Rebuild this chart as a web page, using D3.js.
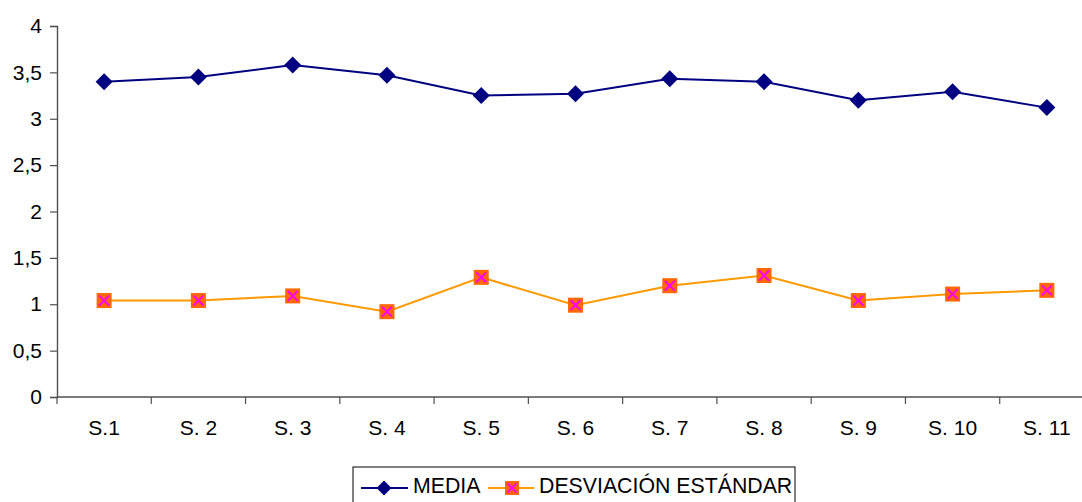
<!DOCTYPE html>
<html>
<head>
<meta charset="utf-8">
<script src="https://cdn.jsdelivr.net/npm/d3@7"></script>
<style>
  html, body { margin: 0; padding: 0; background: #fff; }
  svg { display: block; font-family: "Liberation Sans", Arial, sans-serif; }
</style>
</head>
<body>
<svg id="chart" width="1082" height="502"></svg>
<script>
// Sesiones evaluadas
const categories = ["S.1", "S. 2", "S. 3", "S. 4", "S. 5", "S. 6", "S. 7", "S. 8", "S. 9", "S. 10", "S. 11"];
// Media de cada sesión
const media = [3.40, 3.45, 3.58, 3.47, 3.25, 3.27, 3.43, 3.40, 3.20, 3.29, 3.12];
// Desviación estándar de cada sesión
const desviacion = [1.04, 1.04, 1.09, 0.92, 1.29, 0.99, 1.20, 1.31, 1.04, 1.11, 1.15];
// Marcas del eje vertical
const yTicks = [0, 0.5, 1, 1.5, 2, 2.5, 3, 3.5, 4];
const seriesNames = ["MEDIA", "DESVIACIÓN ESTÁNDAR"];

const svg = d3.select("#chart");
const plot = { left: 57, right: 1094, top: 26, bottom: 397 };
const axisColor = "#505050";
const fontSize = 21;

const x = d3.scaleBand().domain(categories).range([plot.left, plot.right]);
const y = d3.scaleLinear().domain([0, 4]).range([plot.bottom, plot.top]);
const fmt = d => String(d).replace(".", ",");

// Eje Y
const yAxis = svg.append("g")
  .attr("transform", `translate(${plot.left},0)`)
  .call(d3.axisLeft(y).tickValues(yTicks).tickFormat(fmt).tickSizeOuter(0).tickSize(7).tickPadding(8));
yAxis.select(".domain").attr("stroke", axisColor).attr("stroke-width", 1.4);
yAxis.selectAll(".tick line").attr("stroke", axisColor).attr("stroke-width", 1.2);
yAxis.selectAll(".tick text").attr("font-size", fontSize).attr("fill", "#000")
  .attr("font-family", "Liberation Sans, Arial, sans-serif");

// Eje X: marcas en los límites de cada categoría
const xAxis = svg.append("g")
  .attr("transform", `translate(0,${plot.bottom})`);
xAxis.append("line")
  .attr("x1", plot.left).attr("x2", plot.right)
  .attr("stroke", axisColor).attr("stroke-width", 1.4);
xAxis.selectAll("line.tick")
  .data(categories)
  .join("line")
  .attr("class", "tick")
  .attr("x1", d => x(d)).attr("x2", d => x(d))
  .attr("y1", 0).attr("y2", 7)
  .attr("stroke", axisColor).attr("stroke-width", 1.2);
xAxis.selectAll("text")
  .data(categories)
  .join("text")
  .attr("x", d => x(d) + x.bandwidth() / 2)
  .attr("y", 38)
  .attr("text-anchor", "middle")
  .attr("font-size", fontSize)
  .attr("fill", "#000")
  .text(d => d);

const cx = d => x(d) + x.bandwidth() / 2;
const line = d3.line().x((d, i) => cx(categories[i])).y(d => y(d));

// Serie MEDIA
const navy = "#000080";
svg.append("path").datum(media)
  .attr("d", line).attr("fill", "none").attr("stroke", navy).attr("stroke-width", 2);
const diamond = r => `M0,${-r}L${r},0L0,${r}L${-r},0Z`;
svg.selectAll("path.media-pt").data(media).join("path")
  .attr("class", "media-pt")
  .attr("transform", (d, i) => `translate(${cx(categories[i])},${y(d)})`)
  .attr("d", diamond(8.5)).attr("fill", navy);

// Serie DESVIACIÓN ESTÁNDAR
const orange = "#FF9900";
const sqFill = "#FF6600";
const magenta = "#FF00FF";
svg.append("path").datum(desviacion)
  .attr("d", line).attr("fill", "none").attr("stroke", orange).attr("stroke-width", 2);
function squareX(g, s) {
  g.append("rect").attr("x", -s / 2).attr("y", -s / 2).attr("width", s).attr("height", s).attr("fill", sqFill);
  const k = s * 0.33;
  g.append("path").attr("d", `M${-k},${-k}L${k},${k}M${-k},${k}L${k},${-k}`)
    .attr("stroke", magenta).attr("stroke-width", 2).attr("fill", "none");
}
svg.selectAll("g.desv-pt").data(desviacion).join("g")
  .attr("class", "desv-pt")
  .attr("transform", (d, i) => `translate(${cx(categories[i])},${y(d)})`)
  .each(function () { squareX(d3.select(this), 15); });

// Leyenda
const legend = svg.append("g");
legend.append("rect")
  .attr("x", 353).attr("y", 467).attr("width", 442).attr("height", 40)
  .attr("fill", "#fff").attr("stroke", "#000").attr("stroke-width", 1);
const ly = 488;
legend.append("line").attr("x1", 361).attr("x2", 408).attr("y1", ly).attr("y2", ly)
  .attr("stroke", navy).attr("stroke-width", 2);
legend.append("path").attr("transform", `translate(384,${ly})`).attr("d", diamond(7.5)).attr("fill", navy);
legend.append("text").attr("x", 413).attr("y", ly + 5).attr("font-size", 21.3).text(seriesNames[0]);
legend.append("line").attr("x1", 488).attr("x2", 534).attr("y1", ly).attr("y2", ly)
  .attr("stroke", orange).attr("stroke-width", 2);
squareX(legend.append("g").attr("transform", `translate(512,${ly})`), 14);
legend.append("text").attr("x", 539).attr("y", ly + 5).attr("font-size", 21.3).text(seriesNames[1]);
</script>
</body>
</html>
